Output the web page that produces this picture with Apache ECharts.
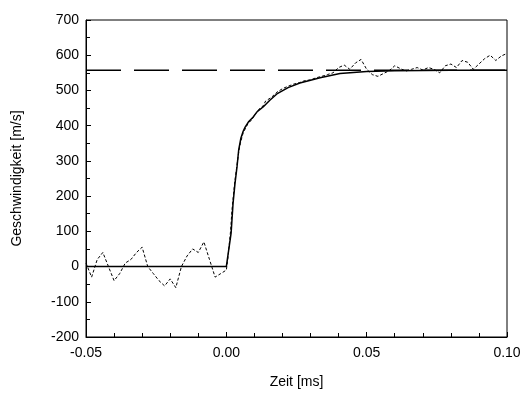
<!DOCTYPE html>
<html>
<head>
<meta charset="utf-8">
<script src="https://cdn.jsdelivr.net/npm/echarts@6/dist/echarts.min.js"></script>
<style>html,body{margin:0;padding:0;background:#fff}#c{width:525px;height:403px}</style>
</head>
<body>
<div id="c"></div>
<script>
// Measured data (time in ms, velocity in m/s)
var measT = [-0.050,-0.048,-0.046,-0.044,-0.042,-0.040,-0.038,-0.036,-0.034,-0.032,-0.030,-0.028,-0.026,-0.024,-0.022,-0.020,-0.018,-0.016,-0.014,-0.012,-0.010,-0.008,-0.006,-0.004,-0.002,0.000,
  0.0005,0.001,0.0015,0.002,0.0025,0.003,0.0035,0.004,0.0045,0.005,0.006,0.007,0.008,0.009,0.010,0.011,0.012,0.013,0.014,0.016,0.018,0.020,0.022,0.024,0.026,0.028,0.030,0.032,0.034,0.036,0.038,0.040,0.042,0.044,0.046,0.048,0.050,0.052,0.054,0.056,0.058,0.060,0.062,0.064,0.066,0.068,0.070,0.072,0.074,0.076,0.078,0.080,0.082,0.084,0.086,0.088,0.090,0.092,0.094,0.096,0.098,0.100];
var measV = [10,-30,20,40,0,-40,-20,10,20,40,55,0,-20,-40,-55,-35,-60,0,30,50,40,70,20,-30,-20,-10,
  20,60,100,160,200,240,270,300,330,350,380,395,410,415,430,440,450,455,470,480,495,505,512,518,522,528,530,536,540,545,550,565,572,560,578,588,560,545,540,548,556,570,562,555,560,565,558,565,560,550,570,575,565,585,580,560,575,590,600,585,598,605];
// Fit curve
var fitT = [-0.050,0.000,0.0002,0.0017,0.0024,0.0031,0.0038,0.0044,0.0052,0.006,0.0067,0.008,0.0095,0.011,0.0131,0.0155,0.018,0.022,0.0262,0.030,0.0334,0.0405,0.050,0.060,0.080,0.100];
var fitV = [0,0,0,95,180,237,283,331,365,384,396,412,424,440,453,472,490,508,521,529,536,548,554,556,557,557];
// Asymptote (dashed)
var asymT = [-0.050,0.100];
var asymV = [557,557];

function zip(a,b){return a.map(function(x,i){return [x,b[i]];});}

var chart = echarts.init(document.getElementById('c'));
var font = 'Liberation Sans, Arial, sans-serif';
chart.setOption({
  animation:false,
  grid:{left:86,right:18,top:20,bottom:66,show:true,borderColor:'#000',borderWidth:1},
  xAxis:{type:'value',min:-0.05,max:0.10,interval:0.05,
    name:'Zeit [ms]',nameLocation:'middle',nameGap:38,
    nameTextStyle:{color:'#000',fontFamily:font,fontSize:14},
    axisLine:{onZero:false,lineStyle:{color:'#000',width:1}},
    axisTick:{inside:true,length:5,lineStyle:{color:'#000'}},
    minorTick:{show:true,splitNumber:5,length:4,lineStyle:{color:'#000'}},
    splitLine:{show:false},
    axisLabel:{color:'#000',fontFamily:font,fontSize:14,margin:9,formatter:function(v){return v.toFixed(2);}}},
  yAxis:{type:'value',min:-200,max:700,interval:100,
    name:'Geschwindigkeit [m/s]',nameLocation:'middle',nameGap:62,
    nameTextStyle:{color:'#000',fontFamily:font,fontSize:14},
    axisLine:{onZero:false,lineStyle:{color:'#000',width:1}},
    axisTick:{inside:true,length:5,lineStyle:{color:'#000'}},
    minorTick:{show:true,splitNumber:2,length:4,lineStyle:{color:'#000'}},
    splitLine:{show:false},
    axisLabel:{color:'#000',fontFamily:font,fontSize:14,margin:7}},
  series:[
    {type:'line',data:zip(measT,measV),showSymbol:false,lineStyle:{color:'#000',width:1,type:[3,2]}},
    {type:'line',data:zip(fitT,fitV),showSymbol:false,lineStyle:{color:'#000',width:1.5}},
    {type:'line',data:zip(asymT,asymV),showSymbol:false,lineStyle:{color:'#000',width:1.5,type:[35,13]}}
  ]
});
</script>
</body>
</html>
